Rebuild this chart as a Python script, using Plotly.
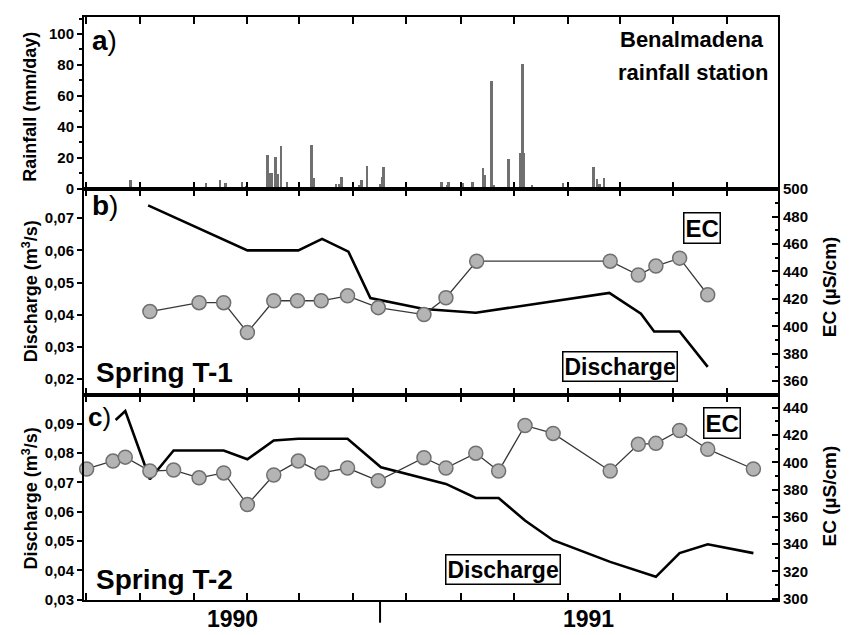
import plotly.graph_objects as go

# ---------------- data ----------------
rain_dates = ["1989-08-21","1989-11-15","1989-12-01","1989-12-07","1989-12-16","1989-12-26","1989-12-31",
              "1990-01-22","1990-01-24","1990-01-27","1990-01-29","1990-02-02","1990-02-04","1990-02-08","1990-02-15",
              "1990-03-15","1990-03-17","1990-04-12","1990-04-15","1990-04-18","1990-05-08","1990-05-11","1990-05-17",
              "1990-06-01","1990-06-03","1990-06-05","1990-08-10","1990-08-16","1990-08-18","1990-08-28","1990-09-03",
              "1990-09-14","1990-09-26","1990-09-28","1990-10-06","1990-10-08","1990-10-25","1990-11-07","1990-11-10",
              "1990-11-12","1990-11-21","1990-12-12","1990-12-24","1990-12-26","1991-01-30","1991-02-03","1991-02-06",
              "1991-02-11","1991-04-23","1991-05-02"]
rain_mm = [5.7,3.8,5.7,3.8,1.3,4.5,2.0,
           1.0,21.5,10,10,20.4,9.6,27.4,4.5,
           28,7,3.2,3.2,7.6,2.5,5.7,14.6,
           3.2,7.6,14,4.5,2.5,4.5,0.6,3.8,
           4.5,13.4,9,69.4,2.5,19.1,23,80.3,
           23,2.5,1.3,1.0,3.8,14,6.4,3,
           7,1.3,1.3]

t1_q_dates = ["1989-09-10","1990-01-01","1990-02-28","1990-03-27","1990-04-26","1990-05-21","1990-07-21",
              "1990-09-18","1991-02-17","1991-03-25","1991-04-09","1991-05-08","1991-06-09"]
t1_q = [0.074,0.060,0.060,0.0636,0.0596,0.0452,0.0418,0.0406,0.0468,0.0403,0.0348,0.0348,0.0238]

t1_ec_dates = ["1989-09-12","1989-11-07","1989-12-05","1990-01-01","1990-01-31","1990-02-27","1990-03-26",
               "1990-04-25","1990-05-30","1990-07-21","1990-08-15","1990-09-19","1991-02-18","1991-03-22",
               "1991-04-11","1991-05-08","1991-06-09"]
t1_ec = [410.7,417.2,417.2,395.5,418.6,418.6,418.6,422.2,413.6,408.5,420.8,447.5,447.5,437.4,443.9,449.7,423]

t2_q_dates = ["1989-08-04","1989-08-15","1989-09-12","1989-10-09","1989-12-05","1990-01-01","1990-01-31",
              "1990-02-28","1990-04-25","1990-06-02","1990-08-15","1990-09-18","1990-10-14","1990-11-13",
              "1990-12-15","1991-02-18","1991-04-11","1991-05-08","1991-06-09","1991-07-31"]
t2_q = [0.0913,0.0944,0.0711,0.0809,0.0809,0.0779,0.0843,0.0849,0.0849,0.0752,0.0695,0.0647,0.0647,
        0.0570,0.0503,0.0429,0.0378,0.0459,0.0489,0.0459]

t2_ec_dates = ["1989-07-02","1989-08-01","1989-08-15","1989-09-12","1989-10-09","1989-11-07","1989-12-05",
               "1990-01-01","1990-01-31","1990-02-28","1990-03-27","1990-04-25","1990-05-30","1990-07-21",
               "1990-08-15","1990-09-18","1990-10-14","1990-11-13","1990-12-15","1991-02-18","1991-03-22",
               "1991-04-11","1991-05-08","1991-06-09","1991-07-31"]
t2_ec = [395.1,400.9,403.8,393.6,394.3,388.6,392.2,369.0,390.7,400.9,392.2,395.8,386.4,403.4,395.8,
         406.7,393.6,427.0,421.2,393.6,413.2,413.9,423.3,409.6,395.1]

x_ticks = ["1989-07-01","1989-09-01","1989-11-01","1990-01-01","1990-03-01","1990-05-01","1990-07-01",
           "1990-09-01","1990-11-01","1991-01-01","1991-03-01","1991-05-01","1991-07-01"]
x_range = ["1989-06-29", "1991-08-28"]

rain_ticks = [0, 20, 40, 60, 80, 100]
t1_q_ticks = [0.02, 0.03, 0.04, 0.05, 0.06, 0.07]
t1_ec_ticks = [360, 380, 400, 420, 440, 460, 480, 500]
t2_q_ticks = [0.03, 0.04, 0.05, 0.06, 0.07, 0.08, 0.09]
t2_ec_ticks = [300, 320, 340, 360, 380, 400, 420, 440]

# ---------------- styling ----------------
FONT = "Arial, Liberation Sans, sans-serif"
W, H = 851, 635
L, R, T, B = 84, 73, 9, 35
ph = H - T - B
def py(pix):  # pixel y -> paper
    return (H - B - pix) / ph
def px(pix):
    return (pix - L) / (W - L - R)

dom_a = [py(183), 1.0]
dom_b = [py(392), py(183)]
dom_c = [0.0, py(392)]

EC_MARK = dict(symbol="circle", size=14, color="#b4b4b4", line=dict(color="#707070", width=1.5))
EC_LINE = dict(color="#383838", width=1.3)
Q_LINE = dict(color="black", width=2.6)

fig = go.Figure()
fig.add_trace(go.Bar(x=rain_dates, y=rain_mm, xaxis="x", yaxis="y", marker=dict(color="#707070", line=dict(width=0)),
                     width=2.8 * 86400000, showlegend=False))
fig.add_trace(go.Scatter(x=t1_q_dates, y=t1_q, xaxis="x2", yaxis="y2", mode="lines", line=Q_LINE, showlegend=False))
fig.add_trace(go.Scatter(x=t1_ec_dates, y=t1_ec, xaxis="x2", yaxis="y3", mode="lines+markers", line=EC_LINE,
                         marker=EC_MARK, showlegend=False, cliponaxis=False))
fig.add_trace(go.Scatter(x=t2_q_dates, y=t2_q, xaxis="x3", yaxis="y4", mode="lines", line=Q_LINE, showlegend=False))
fig.add_trace(go.Scatter(x=t2_ec_dates, y=t2_ec, xaxis="x3", yaxis="y5", mode="lines+markers", line=EC_LINE,
                         marker=EC_MARK, showlegend=False, cliponaxis=False))

tickfont = dict(family=FONT, size=15, color="black", weight="bold")

def xax(anchor):
    return dict(anchor=anchor, range=x_range, type="date", tickvals=x_ticks, ticktext=[""] * len(x_ticks),
                ticks="inside", ticklen=7, tickwidth=2, tickcolor="black", showline=True, linecolor="black",
                linewidth=2, mirror="ticks", showgrid=False, zeroline=False, domain=[0, 1])

def yleft(anchor, domain, rng, tv, fmt, minor=None):
    d = dict(anchor=anchor, domain=domain, range=rng, tickvals=tv,
             ticktext=[(fmt % v).replace(".", ",") for v in tv],
             ticks="outside", ticklen=5, tickwidth=2, tickcolor="black", showline=True, linecolor="black",
             linewidth=2, mirror=True, showgrid=False, zeroline=False, tickfont=tickfont, side="left")
    if minor:
        d["minor"] = dict(dtick=minor, ticks="outside", ticklen=3, tickwidth=1.5, tickcolor="black")
    return d

def yright(overlay, anchor, domain, rng, tv, minor):
    return dict(overlaying=overlay, anchor=anchor, side="right",
                domain=domain, range=rng, tickvals=tv, ticks="inside", ticklen=6, tickwidth=2, tickcolor="black",
                showline=True, linecolor="black", linewidth=2, showgrid=False, zeroline=False, tickfont=tickfont,
                minor=dict(dtick=minor, ticks="inside", ticklen=3, tickwidth=1.5, tickcolor="black"))

fig.update_layout(
    width=W, height=H, margin=dict(l=L, r=R, t=T, b=B), plot_bgcolor="white", paper_bgcolor="white",
    font=dict(family=FONT, color="black"), bargap=0, showlegend=False,
    xaxis=xax("y"), xaxis2=xax("y2"), xaxis3=xax("y4"),
    yaxis=yleft("x", dom_a, [0, 111], rain_ticks, "%d", minor=10),
    yaxis2=yleft("x2", dom_b, [0.0151, 0.0792], t1_q_ticks, "%.2f"),
    yaxis3=yright("y2", "x2", dom_b, [350, 500.4], t1_ec_ticks, 10),
    yaxis4=yleft("x3", dom_c, [0.0299, 0.0999], t2_q_ticks, "%.2f"),
    yaxis5=yright("y4", "x3", dom_c, [299, 449.5], t2_ec_ticks, 10),
)

def ann(text, x, y, size, xanchor="center", angle=0, box=False, bold=True):
    a = dict(text=text, xref="paper", yref="paper", x=px(x), y=py(y), xanchor=xanchor, yanchor="middle",
             showarrow=False, textangle=angle, font=dict(family=FONT, size=size, color="black",
                                                         weight="bold" if bold else "normal"))
    if box:
        a.update(bordercolor="black", borderwidth=1.5, bgcolor="white", borderpad=1)
    fig.add_annotation(**a)

# panel labels
ann("a<span style='font-weight:normal'>)</span>", 90, 33, 28, xanchor="left")
ann("b<span style='font-weight:normal'>)</span>", 90, 200, 28, xanchor="left")
ann("c<span style='font-weight:normal'>)</span>", 86, 414, 26, xanchor="left")
ann("Benalmadena", 766, 32, 22, xanchor="right")
ann("rainfall station", 770, 65, 22, xanchor="right")
ann("Spring T-1", 94, 369, 28, xanchor="left")
ann("Spring T-2", 94, 579, 28, xanchor="left")
ann("EC", 702, 223, 24, box=True)
ann("Discharge", 620, 363, 23, box=True)
ann("EC", 722, 421, 24, box=True)
ann("Discharge", 503, 569, 23, box=True)
# axis titles
ann("Rainfall (mm/day)", 30, 100, 18, angle=-90)
ann("Discharge (m<sup>3</sup>/s)", 30, 287, 18, angle=-90)
ann("Discharge (m<sup>3</sup>/s)", 30, 497, 18, angle=-90)
ann("EC (µS/cm)", 829, 283, 19, angle=-90)
ann("EC (µS/cm)", 829, 495, 19, angle=-90)
# year labels
ann("1990", 232, 619, 23)
ann("1991", 588, 619, 23)

# long tick marking mid-1990 below the bottom axis
fig.add_shape(type="line", xref="x3", yref="paper", x0="1990-06-01", x1="1990-06-01",
              y0=py(600), y1=py(623), line=dict(color="black", width=2))

fig.write_html("out.html")
